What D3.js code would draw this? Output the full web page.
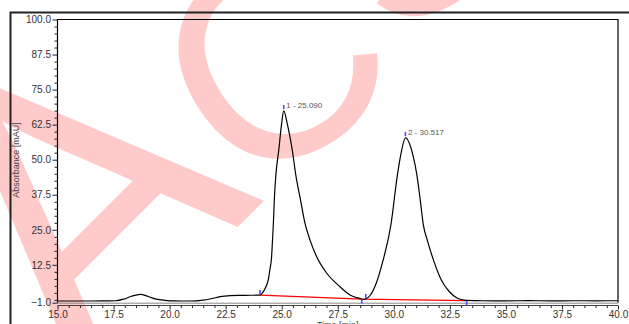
<!DOCTYPE html>
<html>
<head>
<meta charset="utf-8">
<script src="https://cdn.jsdelivr.net/npm/d3@7"></script>
<style>
  html, body { margin: 0; padding: 0; background: #fff; }
  svg { display: block; }
  text { font-family: "Liberation Sans", Arial, sans-serif; }
</style>
</head>
<body>
<svg id="chart" width="629" height="324"></svg>
<script>
// ---------------- data ----------------
const time = [15.0, 16.0, 17.0, 17.6, 17.95, 18.3, 18.7, 19.05, 19.4, 19.8, 20.2, 20.9, 21.5, 21.9, 22.25, 22.7, 23.2, 23.6,
  24.03, 24.15, 24.27, 24.4, 24.47, 24.55, 24.59, 24.63, 24.67, 24.74, 24.87, 24.99, 25.09,
  25.26, 25.47, 25.63, 25.84, 26.04, 26.26, 26.56, 27.01, 27.6, 28.05, 28.35, 28.57, 28.68,
  28.76, 28.96, 29.22, 29.49, 29.87, 30.16, 30.31, 30.52, 30.85, 31.03, 31.18, 31.32, 31.49,
  31.77, 32.12, 32.48, 32.84, 33.25, 34.0, 35.0, 36.0, 37.0, 38.0, 39.0, 40.0];
const absorbance = [-0.39, -0.39, -0.38, -0.3, 0.25, 1.3, 2.0, 1.2, 0.3, -0.15, -0.38, -0.4, -0.1, 0.5, 1.14, 1.5, 1.6, 1.65,
  1.72, 2.6, 4.24, 7.1, 10.66, 15.4, 21.36, 27.4, 35.6, 44.5, 53.5, 62.4, 67.4,
  62.4, 53.5, 44.5, 35.6, 27.3, 21.4, 15.4, 9.5, 4.7, 1.75, 0.8, 0.32, 0.22,
  0.4, 1.75, 6.0, 13.2, 26.7, 44.5, 51.7, 57.8, 51.7, 44.5, 35.6, 26.7, 21.4,
  14.2, 7.1, 2.9, 0.57, -0.2, -0.3, -0.32, -0.28, -0.33, -0.3, -0.32, -0.3];

const peakLabels = ["1 - 25.090", "2 - 30.517"];
const peakTimes = [25.090, 30.517];
const peakHeights = [67.4, 57.8];

const baselineTimes = [24.03, 28.57, 33.25];
const baselineValues = [1.72, 0.28, -0.25];

const startTimes = [24.03, 28.75];
const startValues = [1.72, 0.35];
const endTimes = [28.57, 33.25];
const endValues = [0.28, -0.25];

const yTicks = [-1.0, 12.5, 25.0, 37.5, 50.0, 62.5, 75.0, 87.5, 100.0];
const xTicks = [15.0, 17.5, 20.0, 22.5, 25.0, 27.5, 30.0, 32.5, 35.0, 37.5, 40.0];
const yTitle = "Absorbance [mAU]";
const xTitle = "Time [min]";
const watermark = ["A", "C", "S"];

// ---------------- layout ----------------
const svg = d3.select("#chart");
const L = 57.5, R = 618, T = 19.5, B = 302.7;
const x = d3.scaleLinear().domain([15, 40]).range([L, R]);
const y = d3.scaleLinear().domain([-1, 100]).range([B, T]);

svg.append("rect").attr("width", 629).attr("height", 324).attr("fill", "#fff");

// watermark (behind the chart)
const wm = svg.append("g").attr("fill", "#ffcaca").style("font-family", "'Liberation Sans', Arial, sans-serif");
const wmPos = [[80.5, 384.2, 390, -45], [237.7, 198, 285, -32], [398, 50, 300, -40]];
watermark.forEach((ch, i) => {
  wm.append("text").text(ch)
    .attr("font-size", wmPos[i][2])
    .attr("transform", `translate(${wmPos[i][0]},${wmPos[i][1]}) rotate(${wmPos[i][3]})`);
});

// outer frame
svg.append("path").attr("d", `M10.5,324 V12.5 H629`).attr("fill", "none").attr("stroke", "#222").attr("stroke-width", 2);

// plot frame
svg.append("path").attr("d", `M${L},${B} V${T} H${R} V${B}`).attr("fill", "none").attr("stroke", "#000").attr("stroke-width", 1.2);
svg.append("line").attr("x1", L).attr("x2", R).attr("y1", B + 0.5).attr("y2", B + 0.5).attr("stroke", "#888").attr("stroke-width", 1);

// y axis
const yMinor = d3.range(0, 100, 2.5).filter(v => !yTicks.includes(v));
const gyMinor = svg.append("g").attr("transform", `translate(${L},0)`)
  .call(d3.axisLeft(y).tickValues(yMinor).tickSize(3).tickFormat(""));
const gy = svg.append("g").attr("transform", `translate(${L},0)`)
  .call(d3.axisLeft(y).tickValues(yTicks).tickSize(5).tickPadding(1.5).tickFormat(d3.format(".1f")));
[gy, gyMinor].forEach(g => { g.select(".domain").remove(); g.selectAll("line").attr("stroke", "#222"); });
gy.selectAll("text").attr("font-size", 10).attr("fill", "#333").style("font-family", "'Liberation Sans', Arial, sans-serif");

// x axis
const xAxisY = 305.5;
svg.append("line").attr("x1", L).attr("x2", R).attr("y1", xAxisY).attr("y2", xAxisY).attr("stroke", "#444").attr("stroke-width", 1.2);
const xMinor = d3.range(15, 40.01, 0.5).filter(v => !xTicks.some(t => Math.abs(t - v) < 1e-6));
const gxMinor = svg.append("g").attr("transform", `translate(0,${xAxisY})`)
  .call(d3.axisBottom(x).tickValues(xMinor).tickSize(2.5).tickFormat(""));
const gx = svg.append("g").attr("transform", `translate(0,${xAxisY})`)
  .call(d3.axisBottom(x).tickValues(xTicks).tickSize(4).tickPadding(1).tickFormat(d3.format(".1f")));
[gx, gxMinor].forEach(g => { g.select(".domain").remove(); g.selectAll("line").attr("stroke", "#222"); });
gx.selectAll("text").attr("font-size", 10).attr("fill", "#333").style("font-family", "'Liberation Sans', Arial, sans-serif");

// titles
svg.append("text").text(yTitle)
  .attr("transform", `translate(18.5,160) rotate(-90)`)
  .attr("text-anchor", "middle").attr("font-size", 9).attr("fill", "#444");
svg.append("text").text(xTitle)
  .attr("x", (L + R) / 2).attr("y", 328)
  .attr("text-anchor", "middle").attr("font-size", 9).attr("fill", "#444");

// integration baseline
const pts = time.map((t, i) => [t, absorbance[i]]);
svg.append("path")
  .attr("d", d3.line().x((d, i) => x(baselineTimes[i])).y((d, i) => y(baselineValues[i]))(baselineTimes))
  .attr("fill", "none").attr("stroke", "#ff0000").attr("stroke-width", 1.3);

// chromatogram
svg.append("path")
  .attr("d", d3.line().x(d => x(d[0])).y(d => y(d[1])).curve(d3.curveMonotoneX)(pts))
  .attr("fill", "none").attr("stroke", "#000").attr("stroke-width", 1.2);

// peak markers
const blue = "#4a4aff";
startTimes.forEach((t, i) => {
  svg.append("line").attr("x1", x(t)).attr("x2", x(t))
    .attr("y1", y(startValues[i]) - 5).attr("y2", y(startValues[i]) - 0.5)
    .attr("stroke", blue).attr("stroke-width", 1.6);
});
endTimes.forEach((t, i) => {
  svg.append("line").attr("x1", x(t)).attr("x2", x(t))
    .attr("y1", y(endValues[i]) + 0.5).attr("y2", y(endValues[i]) + 4.5)
    .attr("stroke", blue).attr("stroke-width", 1.6);
});
peakTimes.forEach((t, i) => {
  const py = y(peakHeights[i]);
  svg.append("line").attr("x1", x(t)).attr("x2", x(t))
    .attr("y1", py - 6).attr("y2", py - 1.7)
    .attr("stroke", blue).attr("stroke-width", 1.6);
  svg.append("text").text(peakLabels[i])
    .attr("x", x(t) + 2.5).attr("y", py - 2.6)
    .attr("font-size", 8).attr("fill", "#555");
});
</script>
</body>
</html>
